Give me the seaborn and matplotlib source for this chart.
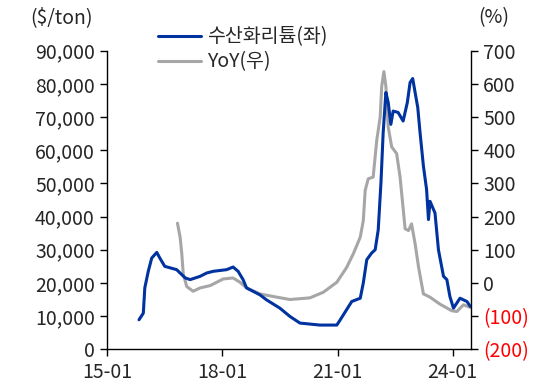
import pandas as pd
import matplotlib.pyplot as plt
import matplotlib.dates as mdates
import seaborn as sns

# Lithium hydroxide price ($/ton), left axis
lioh_dates = ["2015-10-30", "2015-12-10", "2015-12-24", "2016-01-26", "2016-02-28",
              "2016-04-16", "2016-05-15", "2016-07-01", "2016-10-22", "2017-01-12",
              "2017-02-28", "2017-06-03", "2017-08-04", "2017-10-05", "2018-02-10",
              "2018-04-12", "2018-05-30", "2018-07-16", "2018-08-18", "2018-12-24",
              "2019-02-24", "2019-07-01", "2019-10-05", "2020-01-08", "2020-07-16",
              "2020-12-24", "2021-01-26", "2021-05-15", "2021-08-04", "2021-09-02",
              "2021-10-05", "2021-11-20", "2021-12-24", "2022-01-22", "2022-02-17",
              "2022-03-10", "2022-04-05", "2022-04-27", "2022-05-22", "2022-06-13",
              "2022-07-30", "2022-09-16", "2022-10-26", "2022-11-21", "2022-12-16",
              "2023-01-08", "2023-02-02", "2023-02-24", "2023-03-28", "2023-04-27",
              "2023-05-15", "2023-05-30", "2023-07-16", "2023-08-18", "2023-10-05",
              "2023-11-06", "2023-12-05", "2024-01-08", "2024-03-10", "2024-05-15",
              "2024-06-17"]
lioh_price = [8900, 10900, 18500, 23500, 27500,
              29200, 27500, 25000, 24000, 21500,
              21000, 22000, 23000, 23500, 24000,
              24800, 23500, 21000, 18500, 16400,
              14900, 12400, 9900, 7900, 7300,
              7300, 8900, 14400, 15400, 20000,
              27000, 29000, 30000, 36000, 50200,
              65300, 77400, 74400, 67800, 71800,
              71400, 68800, 74400, 80400, 81600,
              77400, 72900, 65300, 55200, 48200,
              39100, 44600, 41100, 30000, 22000,
              21000, 15900, 12400, 15400, 14400,
              12900]

# YoY change (%), right axis
yoy_dates = ["2016-10-30", "2016-11-24", "2016-12-10", "2016-12-24", "2017-01-26",
             "2017-03-28", "2017-06-03", "2017-09-06", "2018-01-08", "2018-04-12",
             "2018-06-17", "2018-08-18", "2018-12-24", "2019-04-30", "2019-10-05",
             "2020-04-12", "2020-08-18", "2020-12-24", "2021-03-28", "2021-05-30",
             "2021-08-04", "2021-09-02", "2021-09-20", "2021-10-19", "2021-12-05",
             "2022-01-08", "2022-02-10", "2022-02-24", "2022-03-17", "2022-04-05",
             "2022-04-27", "2022-05-30", "2022-07-16", "2022-08-18", "2022-10-05",
             "2022-11-06", "2022-12-05", "2023-01-08", "2023-02-10", "2023-03-28",
             "2023-05-30", "2023-09-02", "2023-12-24", "2024-02-10", "2024-04-12",
             "2024-06-17"]
yoy_pct = [180, 138, 88, 27, -11,
           -25, -15, -8, 12, 15,
           2, -15, -33, -41, -50,
           -45, -28, 2, 47, 88,
           138, 188, 279, 314, 319,
           430, 501, 592, 637, 592,
           470, 410, 390, 319, 163,
           158, 178, 118, 47, -33,
           -43, -64, -84, -86, -66,
           -74]

left_ticks = [0, 10000, 20000, 30000, 40000, 50000, 60000, 70000, 80000, 90000]
right_ticks = [-200, -100, 0, 100, 200, 300, 400, 500, 600, 700]
x_ticks = ["2015-01-01", "2018-01-01", "2021-01-01", "2024-01-01"]

lioh = pd.DataFrame({"date": pd.to_datetime(lioh_dates), "price": lioh_price})
yoy = pd.DataFrame({"date": pd.to_datetime(yoy_dates), "pct": yoy_pct})

sns.set_style("ticks")
plt.rcParams['font.family'] = ['Noto Sans CJK KR', 'DejaVu Sans']
plt.rcParams['font.size'] = 14

fig = plt.figure(figsize=(5.49, 3.9), dpi=100)
ax = fig.add_axes([0.1954, 0.1044, 0.662, 0.7656])
ax2 = ax.twinx()

sns.lineplot(data=lioh, x="date", y="price", ax=ax, color="#0033A0", linewidth=2.2,
             label="수산화리튬(좌)", legend=False)
sns.lineplot(data=yoy, x="date", y="pct", ax=ax2, color="#A6A6A6", linewidth=2.2,
             label="YoY(우)", legend=False)

# blue line above the gray one
ax.set_zorder(ax2.get_zorder() + 1)
ax.patch.set_visible(False)

ax.set_xlim(pd.Timestamp("2015-01-01"), pd.Timestamp("2024-06-20"))
ax.set_ylim(0, 90000)
ax2.set_ylim(-200, 700)

ax.set_xticks(pd.to_datetime(x_ticks))
ax.xaxis.set_major_formatter(mdates.DateFormatter("%y-%m"))
ax.set_yticks(left_ticks)
ax.set_yticklabels([f"{v:,}" for v in left_ticks])
ax2.set_yticks(right_ticks)
ax2.set_yticklabels([f"({-v})" if v < 0 else str(v) for v in right_ticks])
for lab, v in zip(ax2.get_yticklabels(), right_ticks):
    if v < 0:
        lab.set_color("red")

for a in (ax, ax2):
    a.set_xlabel("")
    a.set_ylabel("")
    a.tick_params(length=5, width=1, color="black", labelsize=14, pad=4)
    for s in a.spines.values():
        s.set_linewidth(1)
        s.set_color("black")
    a.spines["top"].set_visible(False)
ax.spines["right"].set_visible(False)
ax2.spines["left"].set_visible(False)
ax2.spines["bottom"].set_visible(False)

fig.text(0.112, 0.955, "($/ton)", ha="center", va="center", fontsize=14)
fig.text(0.90, 0.955, "(%)", ha="center", va="center", fontsize=14)

h1, l1 = ax.get_legend_handles_labels()
h2, l2 = ax2.get_legend_handles_labels()
fig.legend(h1 + h2, l1 + l2, loc="upper left", bbox_to_anchor=(0.27, 0.957),
           frameon=False, fontsize=14, handlelength=2.2, handletextpad=0.3,
           labelspacing=0.2, borderpad=0)

fig.savefig("out.png", dpi=100)
